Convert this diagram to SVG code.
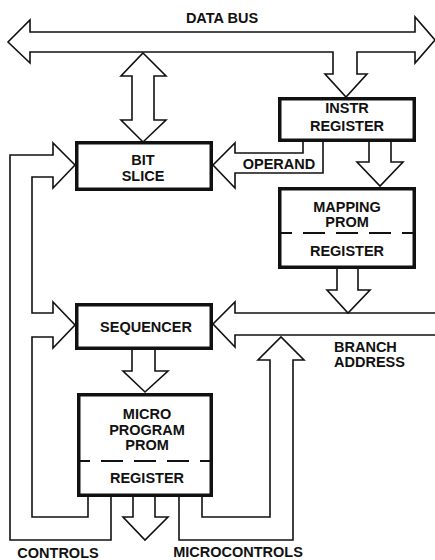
<svg xmlns="http://www.w3.org/2000/svg" width="435" height="560" viewBox="0 0 435 560">
  <style>
    .box { fill: #fff; stroke: #111; stroke-width: 3.5; }
    .dash { fill: none; stroke: #111; stroke-width: 1.8; stroke-dasharray: 22 11; stroke-dashoffset: 10; }
    .wire { fill: none; stroke: #111; stroke-width: 1.6; stroke-linejoin: miter; }
    text { font-family: "Liberation Sans", Arial, Helvetica, sans-serif; font-weight: bold; font-size: 14.5px; fill: #111; }
    .c { text-anchor: middle; }
  </style>
  <rect width="435" height="560" fill="#fff"/>

  <!-- connectors: hollow bus arrows and control loops -->
  <g id="connectors">
    <!-- data bus with its tap into the instruction register -->
    <path class="wire" d="M30,32 L30,20 L8,42 L30,63 L30,52 L333,52 L333,74 L325,74 L346,97 L367,74 L357,74 L357,52 L415,52 L415,63 L435,40 L415,17 L415,32 Z"/>
    <!-- bit slice to/from data bus -->
    <path class="wire" d="M143,53 L166,76 L154,76 L154,120 L166,120 L143,142 L121,120 L132,120 L132,76 L121,76 Z"/>
    <!-- instruction register to mapping prom -->
    <path class="wire" d="M369,142 L369,162 L357,162 L380,186 L403,162 L391,162 L391,142"/>
    <!-- operand path into bit slice -->
    <path class="wire" d="M303,142 L303,153 L235,153 L235,143 L213,165 L235,188 L235,173 L323,173 L323,142"/>
    <!-- branch address bus into sequencer -->
    <path class="wire" d="M435,313 L235,313 L235,302 L213,324 L235,347 L235,335 L435,335"/>
    <!-- mapping register onto branch address bus -->
    <path class="wire" d="M337,268 L337,290 L327,290 L348,313 L370,290 L358,290 L358,268"/>
    <!-- sequencer to microprogram prom -->
    <path class="wire" d="M132,350 L132,371 L123,371 L145,392 L168,371 L155,371 L155,350"/>
    <!-- controls loop: outer edge into bit slice -->
    <path class="wire" d="M75,165 L53,143 L53,155 L10,155 L10,540 L111,540 L111,497"/>
    <!-- controls loop: inner edge into bit slice and sequencer -->
    <path class="wire" d="M75,165 L53,188 L53,177 L32,177 L32,313 L53,313 L53,302 L75,325 L53,348 L53,337 L32,337 L32,517 L88,517 L88,497"/>
    <!-- microcontrols loop back onto branch address bus -->
    <path class="wire" d="M179,497 L179,540 L293,540 L293,360 L304,360 L281,337 L258,360 L270,360 L270,517 L202,517 L202,497"/>
    <!-- outgoing controls arrow -->
    <path class="wire" d="M133,497 L133,517 L123,517 L145,540 L168,517 L155,517 L155,497"/>
  </g>

  <g id="instr-register">
    <rect class="box" x="279.75" y="98.75" width="134.5" height="41.5"/>
    <text class="c" x="347" y="113">INSTR</text>
    <text class="c" x="347" y="131">REGISTER</text>
  </g>

  <g id="bit-slice">
    <rect class="box" x="76.75" y="142.75" width="134.5" height="46.5"/>
    <text class="c" x="143" y="165">BIT</text>
    <text class="c" x="143" y="181">SLICE</text>
  </g>

  <g id="mapping-prom">
    <rect class="box" x="279.75" y="188.75" width="134.5" height="78.5"/>
    <line class="dash" x1="280" y1="233" x2="414" y2="233"/>
    <text class="c" x="347" y="212">MAPPING</text>
    <text class="c" x="347" y="227">PROM</text>
    <text class="c" x="347" y="256">REGISTER</text>
  </g>

  <g id="sequencer">
    <rect class="box" x="76.75" y="304.75" width="134.5" height="43.5"/>
    <text class="c" x="146" y="331.5">SEQUENCER</text>
  </g>

  <g id="microprogram-prom">
    <rect class="box" x="78.75" y="394.75" width="132.5" height="100.5"/>
    <line class="dash" x1="78" y1="461" x2="212" y2="461"/>
    <text class="c" x="147" y="419">MICRO</text>
    <text class="c" x="147" y="435">PROGRAM</text>
    <text class="c" x="147" y="450">PROM</text>
    <text class="c" x="147" y="482.5">REGISTER</text>
  </g>

  <g id="labels">
    <text class="c" x="222" y="23">DATA BUS</text>
    <text class="c" x="279" y="169">OPERAND</text>
    <text x="334" y="352">BRANCH</text>
    <text x="334" y="367">ADDRESS</text>
    <text class="c" x="58" y="558">CONTROLS</text>
    <text class="c" x="238" y="557">MICROCONTROLS</text>
  </g>
</svg>
